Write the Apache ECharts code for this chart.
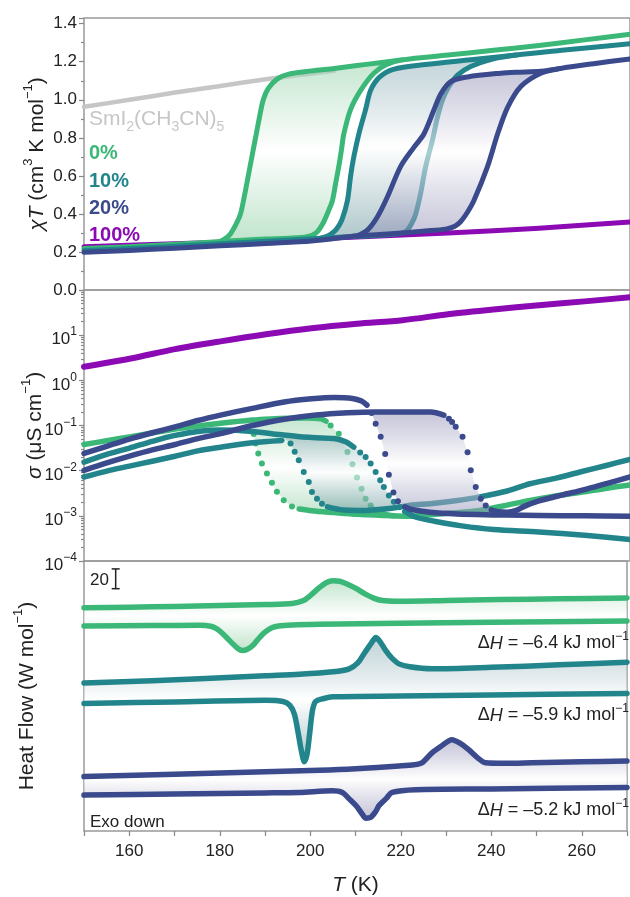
<!DOCTYPE html>
<html><head><meta charset="utf-8">
<script src="https://cdn.jsdelivr.net/npm/echarts@6/dist/echarts.min.js"></script>
<style>html,body{margin:0;padding:0;background:#fff}#c{width:630px;height:897px}</style>
</head><body><div id="c"></div>
<script>
// ---------- colours ----------
const C_G = '#3bb878', C_T = '#22858b', C_B = '#3a4a8c', C_P = '#8b0ab3', C_GR = '#c6c6c6';
const FONT = "'Liberation Sans', Arial, sans-serif";

// ---------- x axis ----------
const xTicks = [150, 270];

// ---------- panel 1 : chi T (cm3 K mol-1) vs T (K) ----------
const chiS = [[150,0.963],[160,1.0],[170,1.038],[180,1.073],[190,1.108],[198,1.132],[205,1.152]];
const chiP = [[150,0.228],[170,0.243],[190,0.26],[210,0.278],[230,0.30],[250,0.325],[270,0.358]];

const chiG_low = [[150,0.218],[160,0.228],[170,0.24],[180,0.255]];
const chiG_heat = [[180,0.255],[185,0.262],[190,0.268],[195,0.272],[199,0.28],[201,0.30],[202.5,0.35],[203.8,0.42],[204.6,0.47],[205.3,0.56],[206,0.65],[206.6,0.74],[207.1,0.82],[208.6,0.95],[210.8,1.05],[213.7,1.14],[216.5,1.185],[220,1.21]];
const chiG_cool = [[220,1.21],[215,1.195],[210,1.18],[205,1.165],[200,1.152],[195,1.135],[192.5,1.11],[190.5,1.06],[189.4,1.0],[188.5,0.9],[187.7,0.8],[186.9,0.7],[186.1,0.6],[185.3,0.5],[184.4,0.40],[183.5,0.35],[182,0.29],[180,0.255]];
const chiG_high = [[220,1.21],[230,1.235],[240,1.26],[250,1.285],[260,1.315],[270,1.345]];

const chiT_low = [[150,0.208],[160,0.218],[170,0.23],[180,0.243],[190,0.256],[202,0.272]];
const chiT_heat = [[202,0.272],[210,0.283],[218,0.293],[220.8,0.31],[222,0.35],[222.9,0.40],[224,0.51],[225.1,0.65],[226.6,0.79],[227.7,0.91],[228.8,1.0],[230.2,1.07],[232.1,1.13],[235,1.175],[240,1.215],[245,1.235]];
const chiT_cool = [[245,1.235],[235,1.21],[225,1.185],[218,1.16],[215,1.12],[213,1.05],[211.9,0.95],[210.4,0.82],[209.3,0.70],[208.6,0.60],[207.9,0.47],[206.7,0.37],[205.5,0.32],[204,0.29],[202,0.272]];
const chiT_high = [[245,1.235],[255,1.26],[270,1.295]];

const chiB_low = [[150,0.198],[160,0.208],[170,0.22],[180,0.232],[190,0.245],[200,0.258],[210.1,0.285]];
const chiB_heat = [[210.1,0.285],[215,0.292],[220,0.30],[225,0.31],[229.5,0.32],[231.5,0.335],[232.8,0.36],[234.3,0.41],[235.7,0.47],[238.7,0.65],[240.9,0.82],[243.1,0.96],[246,1.07],[250.4,1.14],[254.8,1.165]];
const chiB_cool = [[254.8,1.165],[250.4,1.15],[245,1.145],[241.6,1.14],[234.3,1.12],[230.6,1.095],[228.4,1.03],[226.9,0.946],[224.7,0.82],[222.5,0.75],[219.6,0.65],[216.7,0.49],[214.5,0.385],[212.3,0.315],[210.1,0.285]];
const chiB_high = [[254.8,1.165],[262,1.19],[270,1.215]];

const chiTicks = [0, 0.2, 0.4, 0.6, 0.8, 1.0, 1.2, 1.4];

// ---------- panel 2 : sigma (uS cm-1) ----------
const sgP = [[150,2.0],[160,3.0],[170,4.9],[180,7.3],[190,10.5],[200,14.3],[210,18],[220,21.5],[230,29],[240,37],[250,46],[260,56],[270,69]];

const sgG_pre = [[150,0.038],[155,0.046],[160,0.056],[165,0.068],[170,0.083],[175,0.097],[180,0.112],[187,0.132]];
const sgG_heatTop = [[187,0.132],[191,0.140],[195,0.145],[199,0.147],[202,0.140],[203.2,0.125]];
const sgG_heatDots = [[204.2,0.100],[206,0.066],[207.9,0.026],[209,0.0138],[210,0.0071],[211,0.0040],[211.9,0.0024],[213,0.0017]];
const sgG_heatBottom = [[213.6,0.0014],[215,0.00118],[218,0.00100]];
const sgG_post = [[218,0.00100],[222,0.00098],[228,0.00110],[233,0.00120],[237,0.00132],[242,0.00165],[248,0.00220],[254,0.0028],[260,0.0034],[265,0.0041],[270,0.0048]];
const sgG_coolBottom = [[218,0.00100],[214,0.00104],[210,0.00108],[205,0.00118],[200,0.00130],[197.3,0.00142]];
const sgG_coolDots = [[195.7,0.0016],[193.9,0.0022],[192.4,0.0034],[191.3,0.0054],[190.2,0.0087],[189.1,0.0145],[188.3,0.024],[187.7,0.04],[187.3,0.065]];

const sgT_Apre = [[150,0.0155],[155,0.0230],[160,0.0316],[165,0.0447],[170,0.0603],[175,0.0740],[180,0.0790],[187,0.0740],[193,0.0630]];
const sgT_Atop = [[193,0.0630],[197.6,0.0562],[201,0.0537],[205,0.0513],[207.5,0.0437],[209.3,0.0331]];
const sgT_Adots = [[210.7,0.0251],[211.9,0.0200],[213,0.0145],[214.1,0.00933],[215.1,0.00617],[215.9,0.00437],[217,0.00282],[218.1,0.00204],[219.3,0.00155]];
const sgT_Apost = [[220.5,0.00125],[223,0.00093],[227,0.00076],[233,0.00060],[240,0.00050],[250,0.00044],[260,0.00037],[270,0.00030]];
const sgT_Bpre = [[150,0.00724],[155,0.0098],[160,0.0126],[165,0.0162],[170,0.0209],[175,0.0275],[180,0.0331],[187,0.0417],[193.5,0.0468]];
const sgT_Bdots = [[195.4,0.0398],[196.3,0.0263],[197.2,0.0170],[198.3,0.00933],[199.4,0.00562],[200.1,0.00339],[201.2,0.00240],[202.3,0.00186]];
const sgT_Bbottom = [[203.5,0.00158],[207,0.00135],[212,0.00132],[216,0.00141],[219.5,0.00158]];
const sgT_Bpost = [[219.5,0.00158],[222,0.00174],[226,0.00186],[232,0.00219],[237,0.00263],[243,0.00355],[248,0.00513],[254,0.00692],[259,0.00933],[265,0.0132],[270,0.0178]];

const sgB_Apre = [[150,0.0240],[155,0.0347],[160,0.0500],[165,0.0690],[170,0.0933],[175,0.129],[180,0.170],[187,0.240],[194,0.331],[200,0.389],[205,0.417],[209,0.398],[211,0.347],[212.2,0.282]];
const sgB_Adots = [[213.2,0.190],[214.1,0.110],[215.2,0.0562],[216.2,0.0235],[217,0.0081],[218,0.0033],[219,0.0021]];
const sgB_Abottom = [[220.5,0.00158],[222,0.00138],[226,0.00120],[232,0.00110],[240,0.00105],[243,0.00104]];
const sgB_Apost = [[243,0.00104],[250,0.00102],[260,0.00100],[270,0.000977]];
const sgB_Bpre = [[150,0.0102],[155,0.0148],[160,0.0209],[165,0.0288],[170,0.0380],[175,0.0513],[180,0.0661],[187,0.100],[194,0.138],[201,0.170],[208,0.191],[214,0.200]];
const sgB_Btop = [[214,0.200],[218,0.200],[222,0.200],[226.2,0.198],[229.1,0.170]];
const sgB_Bdots = [[230.2,0.141],[230.9,0.120],[231.7,0.0933],[233.2,0.0562],[234.3,0.0257],[235,0.0102],[236.1,0.00437],[237.2,0.00240],[238.3,0.00170]];
const sgB_Bbottom = [[239.5,0.00135],[241,0.00123],[243,0.00120]];
const sgB_Bpost = [[243,0.00120],[245,0.00132],[247,0.00166],[250,0.00214],[255,0.00288],[260,0.00380],[265,0.00525],[270,0.00724]];

const sgDecades = [-4, -3, -2, -1, 0, 1];

// ---------- panel 3 : heat flow (W mol-1, offset traces) ----------
const dscG_heat = [[150,225.7],[160,226.3],[170,227],[180,228],[190,229],[196,230],[198.5,233],[200,238],[202,246],[203.5,251],[205,253],[206.5,252.5],[208,250],[210,245.5],[212,240],[214,235.5],[216,233],[219,232.3],[230,233],[241.6,234],[255,234.8],[270,235.7]];
const dscG_cool = [[150,207.3],[165,207.7],[175.6,208],[178,207],[179.5,204],[181,198],[182.5,191],[184,184.5],[185,182.5],[186,183.5],[187.3,187.5],[188.5,194],[190,201],[191.5,205.5],[193,207.3],[196,208.3],[202,209],[220,210],[240,211],[270,212.3]];
const dscT_heat = [[150,149.7],[165,152],[175.6,154],[190,157],[197.6,158.5],[205,161],[208.6,164],[210.5,170],[212,180],[213.5,190],[214.5,195.7],[215.5,191],[216.7,182.3],[218,175],[219.6,169],[222,166],[226.9,164],[240,165.5],[255,168],[270,170.7]];
const dscT_cool = [[150,129],[170,130.5],[190.2,132.3],[194,131],[195.5,127],[196.5,118],[197.3,100],[198,82],[198.7,70],[199.3,78],[199.9,100],[200.5,122],[201.2,131],[203,134],[205,135.7],[220,136.5],[240,137.5],[270,139]];
const dscB_heat = [[150,55],[170,57.5],[190,60],[202,61.5],[210,63],[219.6,65.7],[223,67],[224.7,69],[226.9,79],[229,86],[231.3,92.3],[233,89],[235,82.3],[237,74],[238.7,69],[243,68.5],[249,69],[260,70],[270,70.7]];
const dscB_cool = [[150,36.3],[170,37.5],[190,38.5],[197.6,39],[204.9,40.7],[207.1,39],[208.5,33],[210.1,25.7],[211.5,17],[212.3,13],[213.4,14],[214.5,20],[215.2,25.7],[216.8,33],[218.1,39],[223.3,41.7],[240,42.5],[270,44]];
const dscScaleBar = [157, 245, 265];   // T, low, high  (20 W mol-1)
const dHLabels = ['\u20136.4', '\u20135.9', '\u20135.2'];

// ---------- helpers ----------
let zc = 2;
const Z = () => zc++;
const rev = a => a.slice().reverse();
function line(data, color, w, ax) {
  return {type:'line', xAxisIndex:ax, yAxisIndex:ax, data, z:Z(), symbol:'none', showSymbol:false,
    smooth:0.3, silent:true, animation:false, clip:true,
    lineStyle:{color, width:w, cap:'round', join:'round'}};
}
function dots(data, color, size, ax) {
  return {type:'scatter', xAxisIndex:ax, yAxisIndex:ax, data, z:Z(), symbol:'circle', symbolSize:size,
    silent:true, animation:false, itemStyle:{color, opacity:1}};
}
function fill(parts, stops, ax) {
  const pts = [].concat(...parts);
  return {type:'custom', xAxisIndex:ax, yAxisIndex:ax, z:Z(), silent:true, animation:false, clip:true,
    data:[pts[0]],
    renderItem:(params, api) => ({type:'polygon', shape:{points: pts.map(p => api.coord(p))},
      style:{fill:new echarts.graphic.LinearGradient(0,0,0,1, stops.map(s => ({offset:s[0], color:s[1]})))}})};
}
const W = 'rgba(255,255,255,0.6)';
const gradG = [[0,'rgba(150,210,170,0.55)'],[0.5,W],[1,'rgba(150,210,170,0.6)']];
const gradT = [[0,'rgba(120,160,170,0.45)'],[0.5,W],[1,'rgba(110,155,160,0.55)']];
const gradB = [[0,'rgba(140,140,180,0.5)'],[0.5,W],[1,'rgba(140,140,180,0.5)']];

const series = [];
// panel 1
series.push(line(chiS, C_GR, 4.5, 0));
series.push(line(chiP, C_P, 5, 0));
series.push(fill([chiG_heat, chiG_cool], gradG, 0));
series.push(line(chiG_low.concat(chiG_heat.slice(1), chiG_high.slice(1)), C_G, 5, 0));
series.push(line(chiG_cool, C_G, 5, 0));
series.push(fill([chiT_heat, chiT_cool], gradT, 0));
series.push(line(chiT_low.concat(chiT_heat.slice(1), chiT_high.slice(1)), C_T, 5, 0));
series.push(line(chiT_cool, C_T, 5, 0));
series.push(fill([chiB_heat, chiB_cool], gradB, 0));
series.push(line(chiB_low.concat(chiB_heat.slice(1), chiB_high.slice(1)), C_B, 5, 0));
series.push(line(chiB_cool, C_B, 5, 0));
// panel 2
series.push(line(sgP, C_P, 6, 1));
series.push(fill([sgG_heatTop, sgG_heatDots, sgG_heatBottom, sgG_coolBottom, sgG_coolDots], gradG, 1));
series.push(line(sgG_pre.concat(sgG_heatTop.slice(1)), C_G, 5.5, 1));
series.push(line(sgG_heatBottom.concat(sgG_post.slice(1)), C_G, 5.5, 1));
series.push(line(sgG_coolBottom, C_G, 5.5, 1));
series.push(dots(sgG_heatDots.concat(sgG_coolDots), C_G, 6, 1));
series.push(fill([sgT_Atop, sgT_Adots, rev(sgT_Bbottom), rev(sgT_Bdots)], gradT, 1));
series.push(line(sgT_Apre.concat(sgT_Atop.slice(1)), C_T, 5.5, 1));
series.push(line(sgT_Apost, C_T, 5.5, 1));
series.push(line(sgT_Bpre, C_T, 5.5, 1));
series.push(line(sgT_Bbottom.concat(sgT_Bpost.slice(1)), C_T, 5.5, 1));
series.push(dots(sgT_Adots.concat(sgT_Bdots), C_T, 6, 1));
series.push(fill([sgB_Btop, sgB_Bdots, sgB_Bbottom, rev(sgB_Abottom), rev(sgB_Adots)], gradB, 1));
series.push(line(sgB_Apre, C_B, 5.5, 1));
series.push(line(sgB_Abottom.concat(sgB_Apost.slice(1)), C_B, 5.5, 1));
series.push(line(sgB_Bpre.concat(sgB_Btop.slice(1)), C_B, 5.5, 1));
series.push(line(sgB_Bbottom.concat(sgB_Bpost.slice(1)), C_B, 5.5, 1));
series.push(dots(sgB_Adots.concat(sgB_Bdots), C_B, 6, 1));
// panel 3
series.push(fill([dscG_heat, rev(dscG_cool)], gradG, 2));
series.push(line(dscG_heat, C_G, 5.5, 2));
series.push(line(dscG_cool, C_G, 5.5, 2));
series.push(fill([dscT_heat, rev(dscT_cool)], gradT, 2));
series.push(line(dscT_heat, C_T, 5.5, 2));
series.push(line(dscT_cool, C_T, 5.5, 2));
series.push(fill([dscB_heat, rev(dscB_cool)], gradB, 2));
series.push(line(dscB_heat, C_B, 5.5, 2));
series.push(line(dscB_cool, C_B, 5.5, 2));
series.push({type:'custom', xAxisIndex:2, yAxisIndex:2, z:Z(), silent:true, animation:false,
  data:[dscScaleBar],
  renderItem:(params, api) => {
    const a = api.coord([api.value(0), api.value(1)]);
    const b = api.coord([api.value(0), api.value(2)]);
    const st = {stroke:'#222', lineWidth:1.5};
    return {type:'group', children:[
      {type:'line', shape:{x1:a[0], y1:a[1], x2:b[0], y2:b[1]}, style:st},
      {type:'line', shape:{x1:a[0]-4, y1:a[1], x2:a[0]+4, y2:a[1]}, style:st},
      {type:'line', shape:{x1:b[0]-4, y1:b[1], x2:b[0]+4, y2:b[1]}, style:st}]};
  }});

// ---------- axes ----------
const tickStyle = {color:'#888', width:1.2};
const nameRich = {
  i:{fontSize:21, fontStyle:'italic', color:'#222', fontFamily:FONT, verticalAlign:'top', lineHeight:24, padding:[5,0,0,0]},
  n:{fontSize:21, color:'#222', fontFamily:FONT, verticalAlign:'top', lineHeight:24, padding:[5,0,0,0]},
  sup:{fontSize:13, color:'#222', fontFamily:FONT, verticalAlign:'top', lineHeight:13}
};
const grids = [
  {left:84, top:18, width:547, height:272},
  {left:84, top:290, width:547, height:271},
  {left:84, top:561, width:547, height:273}
].map(g => Object.assign(g, {show:true, borderColor:'#999', borderWidth:1.5, backgroundColor:'transparent'}));

const xAxes = [0,1,2].map(i => ({gridIndex:i, type:'value', min:xTicks[0], max:xTicks[1],
  axisLine:{show:false}, splitLine:{show:false},
  axisTick:{show:i===2, length:5, lineStyle:tickStyle},
  axisLabel:{show:i===2, fontSize:17, color:'#222', fontFamily:FONT, margin:12, formatter:v => (v % 20 === 0 ? String(v) : '')},
  interval:10}));
xAxes[2].name = '{i|T}{n| (K)}';
xAxes[2].nameLocation = 'middle';
xAxes[2].nameGap = 39;
xAxes[2].nameMoveOverlap = false;
xAxes[2].nameTextStyle = {rich:nameRich};

const yAxes = [
  {gridIndex:0, type:'value', min:0, max:1.43, interval:0.2,
    axisLine:{show:false}, splitLine:{show:false},
    axisTick:{show:true, length:5, lineStyle:tickStyle},
    minorTick:{show:true, splitNumber:2, length:3, lineStyle:tickStyle},
    axisLabel:{fontSize:17, color:'#222', fontFamily:FONT, margin:7, showMaxLabel:false,
      formatter:v => (chiTicks.some(t => Math.abs(t - v) < 1e-6) ? v.toFixed(1) : '')},
    name:'{i|\u03C7T}{n| (cm}{sup|3}{n| K mol}{sup|\u22121}{n|)}', nameLocation:'middle', nameGap:38, nameRotate:90,
    nameMoveOverlap:false, nameTextStyle:{rich:nameRich}},
  {gridIndex:1, type:'log', logBase:10, min:1e-4, max:100, splitNumber:6,
    axisLine:{show:false}, splitLine:{show:false},
    axisTick:{show:true, length:5, lineStyle:tickStyle},
    minorTick:{show:true, splitNumber:9, length:3, lineStyle:tickStyle},
    axisLabel:{fontFamily:FONT, margin:7, formatter:v => {
        const e = Math.round(Math.log10(v));
        if (Math.abs(Math.log10(v) - e) > 1e-6 || sgDecades.indexOf(e) < 0) return '';
        return '{b|10}{s|' + (e < 0 ? '\u2212' + (-e) : e) + '}';
      },
      rich:{b:{fontSize:17, color:'#222', fontFamily:FONT, verticalAlign:'top', lineHeight:18, padding:[5,0,0,0]},
            s:{fontSize:12, color:'#222', fontFamily:FONT, verticalAlign:'top', lineHeight:12}}},
    name:'{i|\u03C3}{n| (\u03BCS cm}{sup|\u22121}{n|)}', nameLocation:'middle', nameGap:40, nameRotate:90,
    nameMoveOverlap:false, nameTextStyle:{rich:nameRich}},
  {gridIndex:2, type:'value', min:0, max:273,
    axisLine:{show:false}, splitLine:{show:false}, axisTick:{show:false}, axisLabel:{show:false},
    name:'{n|Heat Flow (W mol}{sup|\u22121}{n|)}', nameLocation:'middle', nameGap:48, nameRotate:90,
    nameMoveOverlap:false, nameTextStyle:{rich:nameRich}}
];

// ---------- annotations ----------
function rt(x, y, text, rich, align) {
  return {type:'text', x, y, silent:true, z:100,
    style:{text, rich, align:align || 'left', verticalAlign:'middle', fontFamily:FONT}};
}
function pt(x, y, text, size, color, bold) {
  return {type:'text', x, y, silent:true, z:100,
    style:{text, fontSize:size, fontWeight:bold ? 'bold' : 'normal', fill:color, fontFamily:FONT, verticalAlign:'middle'}};
}
const smRich = {
  n:{fontSize:21, fill:C_GR, color:C_GR, fontFamily:FONT, lineHeight:23, verticalAlign:'top'},
  s:{fontSize:14, fill:C_GR, color:C_GR, fontFamily:FONT, lineHeight:14, padding:[12,0,0,0], verticalAlign:'top'}
};
const dhRich = {
  n:{fontSize:18, fill:'#222', color:'#222', fontFamily:FONT, lineHeight:21, verticalAlign:'top', padding:[4,0,0,0]},
  i:{fontSize:18, fill:'#222', color:'#222', fontFamily:FONT, fontStyle:'italic', lineHeight:21, verticalAlign:'top', padding:[4,0,0,0]},
  sup:{fontSize:12, fill:'#222', color:'#222', fontFamily:FONT, lineHeight:12, verticalAlign:'top'}
};
const dhText = v => '{n|\u0394}{i|H}{n| = ' + v + ' kJ mol}{sup|\u22121}';
const graphic = [
  rt(89, 120, '{n|SmI}{s|2}{n|(CH}{s|3}{n|CN)}{s|5}', smRich),
  pt(89, 153, '0%', 20, C_G, true),
  pt(89, 181, '10%', 20, C_T, true),
  pt(89, 208, '20%', 20, C_B, true),
  pt(89, 235, '100%', 20, C_P, true),
  pt(90, 580, '20', 17, '#222', false),
  pt(90, 822, 'Exo down', 17, '#222', false),
  rt(629, 641, dhText(dHLabels[0]), dhRich, 'right'),
  rt(629, 713, dhText(dHLabels[1]), dhRich, 'right'),
  rt(629, 808, dhText(dHLabels[2]), dhRich, 'right')
];

const chart = echarts.init(document.getElementById('c'), null, {renderer:'canvas', width:630, height:897});
chart.setOption({
  animation:false,
  backgroundColor:'#fff',
  textStyle:{fontFamily:FONT},
  grid:grids, xAxis:xAxes, yAxis:yAxes, series, graphic
});
</script></body></html>
